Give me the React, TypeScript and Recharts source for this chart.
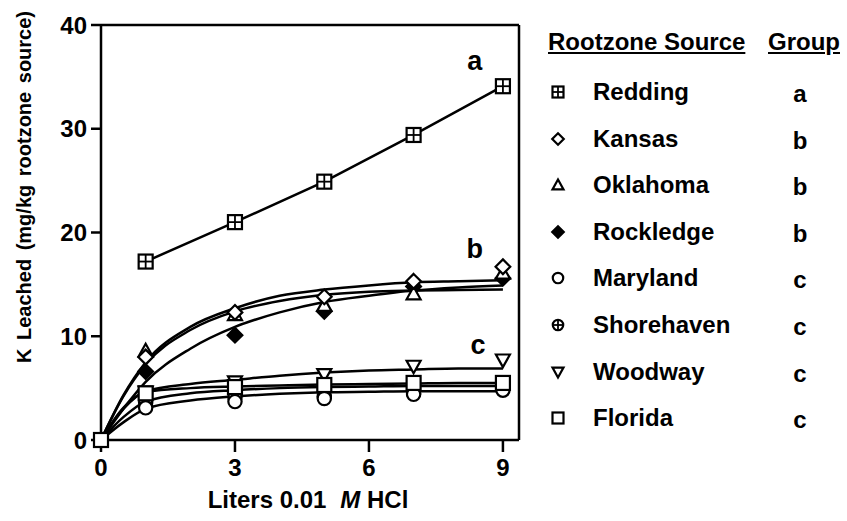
import React from "react";
import {
  ComposedChart,
  Line,
  Scatter,
  XAxis,
  YAxis,
  ReferenceLine,
  ReferenceDot,
  Label,
} from "recharts";

const FONT = "'Liberation Sans', Arial, Helvetica, sans-serif";

// axis ticks
const xTicks = [0, 3, 6, 9];
const yTicks = [0, 10, 20, 30, 40];

// measured points (liters of 0.01 M HCl)
const sampleX = [1, 3, 5, 7, 9];
const reddingY = [17.2, 21.0, 24.9, 29.4, 34.1];
const kansasY = [8.0, 12.3, 13.8, 15.3, 16.7];
const oklahomaY = [8.6, 12.1, 13.0, 14.1, 16.1];
const rockledgeY = [6.6, 10.1, 12.4, 14.8, 15.6];
const marylandY = [3.1, 3.7, 4.0, 4.4, 4.8];
const shorehavenY = [3.6, 4.1, 4.2, 4.5, 5.0];
const woodwayY = [4.6, 5.6, 6.3, 7.1, 7.7];
const floridaY = [4.5, 5.1, 5.3, 5.5, 5.5];

// fitted curves
const fitX = [0, 0.5, 1, 2, 3, 4, 5, 6, 7, 8, 9];
const kansasFit = [0, 4.3, 7.5, 10.9, 12.7, 13.9, 14.5, 14.9, 15.2, 15.3, 15.4];
const oklahomaFit = [0, 4.2, 7.3, 10.6, 12.4, 13.4, 14.0, 14.3, 14.4, 14.45, 14.5];
const rockledgeFit = [0, 3.0, 5.6, 8.8, 10.9, 12.3, 13.3, 13.9, 14.4, 14.7, 14.9];
const woodwayFit = [0, 3.0, 4.7, 5.4, 5.8, 6.2, 6.5, 6.7, 6.8, 6.9, 6.9];
const floridaFit = [0, 3.1, 4.6, 5.0, 5.15, 5.25, 5.35, 5.4, 5.45, 5.5, 5.5];
const shorehavenFit = [0, 2.2, 3.7, 4.5, 4.8, 5.0, 5.1, 5.15, 5.2, 5.2, 5.2];
const marylandFit = [0, 1.7, 3.0, 3.8, 4.2, 4.45, 4.6, 4.65, 4.7, 4.7, 4.7];

// group letters inside the plot
const groupLetters = ["a", "b", "c"];
const groupLetterX = [8.37, 8.37, 8.44];
const groupLetterY = [36.6, 18.5, 9.2];

// legend
const sourceNames = ["Redding", "Kansas", "Oklahoma", "Rockledge", "Maryland", "Shorehaven", "Woodway", "Florida"];
const sourceGroups = ["a", "b", "b", "b", "c", "c", "c", "c"];
const sourceMarkers = ["gridSquare", "diamond", "triangleUp", "filledDiamond", "circle", "circlePlus", "triangleDown", "square"];

const zip = (xs: number[], ys: number[]) => xs.map((x, i) => ({ x, y: ys[i] }));

const reddingPts = zip(sampleX, reddingY);
const kansasPts = zip(sampleX, kansasY);
const oklahomaPts = zip(sampleX, oklahomaY);
const rockledgePts = zip(sampleX, rockledgeY);
const marylandPts = zip(sampleX, marylandY);
const shorehavenPts = zip(sampleX, shorehavenY);
const woodwayPts = zip(sampleX, woodwayY);
const floridaPts = [{ x: 0, y: 0 }, ...zip(sampleX, floridaY)];

const fits = [kansasFit, oklahomaFit, rockledgeFit, woodwayFit, floridaFit, shorehavenFit, marylandFit];

function Marker({ kind, cx, cy, h = 7 }: { kind: string; cx: number; cy: number; h?: number }) {
  const sw = 2.2;
  const st = "#000";
  switch (kind) {
    case "gridSquare":
      return (
        <g>
          <rect x={cx - h} y={cy - h} width={2 * h} height={2 * h} fill="#fff" stroke={st} strokeWidth={sw} />
          <line x1={cx} y1={cy - h} x2={cx} y2={cy + h} stroke={st} strokeWidth={1.8} />
          <line x1={cx - h} y1={cy} x2={cx + h} y2={cy} stroke={st} strokeWidth={1.8} />
        </g>
      );
    case "square":
      return <rect x={cx - h} y={cy - h} width={2 * h} height={2 * h} fill="#fff" stroke={st} strokeWidth={sw} />;
    case "diamond":
    case "filledDiamond": {
      const d = h * 1.05;
      return (
        <polygon
          points={`${cx},${cy - d} ${cx + d},${cy} ${cx},${cy + d} ${cx - d},${cy}`}
          fill={kind === "filledDiamond" ? "#000" : "#fff"}
          stroke={st}
          strokeWidth={sw}
        />
      );
    }
    case "triangleUp":
      return (
        <polygon
          points={`${cx},${cy - h} ${cx + h},${cy + h * 0.8} ${cx - h},${cy + h * 0.8}`}
          fill="#fff"
          stroke={st}
          strokeWidth={sw}
        />
      );
    case "triangleDown":
      return (
        <polygon
          points={`${cx},${cy + h} ${cx + h},${cy - h * 0.8} ${cx - h},${cy - h * 0.8}`}
          fill="#fff"
          stroke={st}
          strokeWidth={sw}
        />
      );
    case "circle":
      return <circle cx={cx} cy={cy} r={h * 0.95} fill="#fff" stroke={st} strokeWidth={sw} />;
    case "circlePlus":
      return (
        <g>
          <circle cx={cx} cy={cy} r={h * 0.95} fill="#fff" stroke={st} strokeWidth={sw} />
          <line x1={cx} y1={cy - h} x2={cx} y2={cy + h} stroke={st} strokeWidth={1.8} />
          <line x1={cx - h} y1={cy} x2={cx + h} y2={cy} stroke={st} strokeWidth={1.8} />
        </g>
      );
    default:
      return null;
  }
}

const shapeOf = (kind: string) => (props: any) => <Marker kind={kind} cx={props.cx} cy={props.cy} />;

function XTitle(props: any) {
  const vb = props.viewBox || { x: 101, y: 440, width: 418, height: 81 };
  return (
    <text x={vb.x + vb.width / 2 - 2} y={vb.y + 68} textAnchor="middle" fontFamily={FONT} fontWeight="bold" fontSize={24} fill="#000">
      <tspan>Liters 0.01</tspan>
      <tspan dx={14} fontStyle="italic">M</tspan>
      <tspan> HCl</tspan>
    </text>
  );
}

function YTitle() {
  return (
    <text
      x={24}
      y={187}
      transform="rotate(-90, 24, 187)"
      textAnchor="middle"
      dominantBaseline="central"
      fontFamily={FONT}
      fontWeight="bold"
      fontSize={20}
      wordSpacing={3}
      fill="#000"
    >
      K Leached (mg/kg rootzone source)
    </text>
  );
}

const axisLine = { stroke: "#000", strokeWidth: 2.5 };
const tickStyle = { fill: "#000", fontSize: 24, fontWeight: "bold", fontFamily: FONT };

function LegendBlock() {
  const head: React.CSSProperties = {
    position: "absolute",
    top: 28,
    fontSize: 24,
    fontWeight: "bold",
    textDecoration: "underline",
    lineHeight: "28px",
    whiteSpace: "nowrap",
  };
  return (
    <div style={{ position: "absolute", left: 0, top: 0, width: 847, height: 521, fontFamily: FONT, color: "#000", pointerEvents: "none" }}>
      <div style={{ ...head, left: 548 }}>Rootzone Source</div>
      <div style={{ ...head, left: 768 }}>Group</div>
      {sourceNames.map((name, i) => {
        const cy = 92 + i * 46.6;
        return (
          <React.Fragment key={name}>
            <svg style={{ position: "absolute", left: 550, top: cy - 8 }} width={16} height={16}>
              <Marker kind={sourceMarkers[i]} cx={8} cy={8} h={5.5} />
            </svg>
            <div style={{ position: "absolute", left: 593, top: cy - 14, fontSize: 24, fontWeight: "bold", lineHeight: "28px", whiteSpace: "nowrap" }}>
              {name}
            </div>
            <div style={{ position: "absolute", left: 780, width: 40, textAlign: "center", top: cy - 12, fontSize: 24, fontWeight: "bold", lineHeight: "28px" }}>
              {sourceGroups[i]}
            </div>
          </React.Fragment>
        );
      })}
    </div>
  );
}

export default function App() {
  return (
    <div style={{ position: "absolute", left: 0, top: 0, width: 847, height: 521, background: "#fff" }}>
      <ComposedChart width={847} height={521} margin={{ top: 25, right: 328, bottom: 0, left: 0 }}>
        <XAxis
          type="number"
          dataKey="x"
          domain={[0, 9.36]}
          ticks={xTicks}
          height={81}
          tickSize={12}
          tickMargin={7}
          axisLine={axisLine}
          tickLine={axisLine}
          tick={tickStyle}
        >
          <Label content={<XTitle />} />
        </XAxis>
        <YAxis
          type="number"
          dataKey="y"
          domain={[0, 40]}
          ticks={yTicks}
          width={101}
          tickSize={10}
          tickMargin={4}
          axisLine={axisLine}
          tickLine={axisLine}
          tick={tickStyle}
        >
          <Label content={<YTitle />} />
        </YAxis>
        <ReferenceLine y={40} stroke="#000" strokeWidth={2.5} />
        <ReferenceLine x={9.36} stroke="#000" strokeWidth={2.5} />

        <Line data={reddingPts} dataKey="y" type="linear" stroke="#000" strokeWidth={2.5} dot={false} isAnimationActive={false} />
        {fits.map((f, i) => (
          <Line
            key={i}
            data={zip(fitX, f)}
            dataKey="y"
            type="monotone"
            stroke="#000"
            strokeWidth={2.5}
            dot={false}
            isAnimationActive={false}
          />
        ))}

        <Scatter data={reddingPts} dataKey="y" shape={shapeOf("gridSquare")} isAnimationActive={false} />
        <Scatter data={rockledgePts} dataKey="y" shape={shapeOf("filledDiamond")} isAnimationActive={false} />
        <Scatter data={oklahomaPts} dataKey="y" shape={shapeOf("triangleUp")} isAnimationActive={false} />
        <Scatter data={kansasPts} dataKey="y" shape={shapeOf("diamond")} isAnimationActive={false} />
        <Scatter data={shorehavenPts} dataKey="y" shape={shapeOf("circlePlus")} isAnimationActive={false} />
        <Scatter data={marylandPts} dataKey="y" shape={shapeOf("circle")} isAnimationActive={false} />
        <Scatter data={woodwayPts} dataKey="y" shape={shapeOf("triangleDown")} isAnimationActive={false} />
        <Scatter data={floridaPts} dataKey="y" shape={shapeOf("square")} isAnimationActive={false} />

        {groupLetters.map((g, i) => (
          <ReferenceDot
            key={g}
            x={groupLetterX[i]}
            y={groupLetterY[i]}
            r={0}
            stroke="none"
            fill="none"
            label={{ value: g, position: "center", fontSize: 27, fontWeight: "bold", fill: "#000", fontFamily: FONT }}
          />
        ))}
      </ComposedChart>
      <LegendBlock />
    </div>
  );
}
